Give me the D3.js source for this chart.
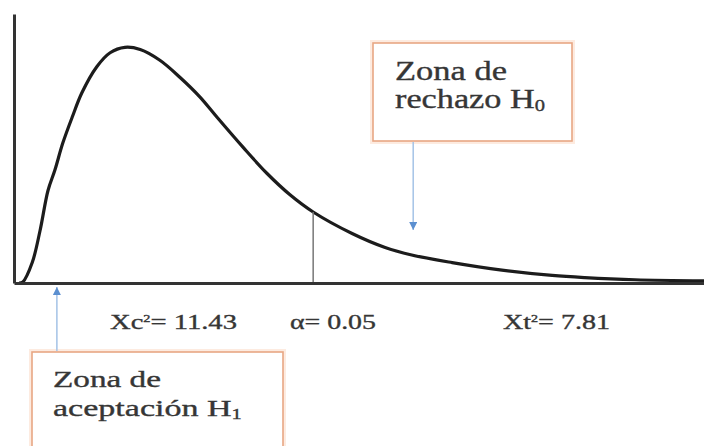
<!DOCTYPE html>
<meta charset="utf-8">
<script src="https://d3js.org/d3.v7.min.js"></script>
<style>
body { margin: 0; background: #fff; }
text { font-family: "Liberation Serif", "Times New Roman", serif; fill: #363636; stroke: #363636; stroke-width: 0.35; }
</style>
<div id="chart"></div>
<script>
// density curve (chi-square like shape)
var curveX = [0.10, 0.18, 0.37, 0.53, 0.69, 0.83, 0.99, 1.18, 1.38, 1.68, 1.95, 2.25, 2.56, 2.96, 3.37,
              3.77, 4.12, 4.65, 5.13, 5.60, 6.07, 6.86, 7.53, 8.07, 8.89, 9.90, 10.92, 11.58, 12.60, 14.00];
var curveY = [0, 0.001, 0.019, 0.049, 0.086, 0.105, 0.130, 0.154, 0.177, 0.201, 0.214, 0.219, 0.217, 0.207, 0.191,
              0.173, 0.154, 0.126, 0.102, 0.082, 0.066, 0.046, 0.033, 0.026, 0.019, 0.012, 0.007, 0.005, 0.003, 0.002];

// critical value line (alpha = 0.05) and arrow targets
var critX = 6.07, critY = 0.066;
var rejectX = 8.1, acceptX = 0.87;

// texts
var rejectText = ["Zona de", "rechazo H", "0"];
var acceptText = ["Zona de", "aceptación H", "1"];
var statLabels = [["Xc", "2", "= 11.43"], ["α= 0.05", "", ""], ["Xt", "2", "= 7.81"]];

var width = 704, height = 446;

var svg = d3.select("#chart")
  .append("svg")
    .attr("width", width)
    .attr("height", height);

var x = d3.scaleLinear().domain([0, 14]).range([14, 704]);
var y = d3.scaleLinear().domain([0, 0.25]).range([283, 14]);

// arrowhead
svg.append("defs").append("marker")
    .attr("id", "head")
    .attr("viewBox", "0 0 10 10")
    .attr("refX", 10).attr("refY", 5)
    .attr("markerWidth", 8).attr("markerHeight", 8)
    .attr("markerUnits", "userSpaceOnUse")
    .attr("orient", "auto")
  .append("path")
    .attr("d", "M0,0L10,5L0,10Z")
    .attr("fill", "#5b8fd0");

// curve
var pts = curveX.map(function(d, i) { return [d, curveY[i]]; });
svg.append("path")
  .datum(pts)
  .attr("fill", "none")
  .attr("stroke", "#1c1c1c")
  .attr("stroke-width", 3.2)
  .attr("stroke-linejoin", "round")
  .attr("d", d3.line()
    .x(function(d) { return x(d[0]); })
    .y(function(d) { return y(d[1]); })
    .curve(d3.curveCatmullRom.alpha(0.5)));

// alpha line
svg.append("line")
  .attr("x1", x(critX)).attr("x2", x(critX))
  .attr("y1", y(0)).attr("y2", y(critY))
  .attr("stroke", "#777")
  .attr("stroke-width", 1.5);

// axes without ticks
svg.append("g")
  .attr("transform", "translate(0," + y(0) + ")")
  .call(d3.axisBottom(x).ticks(0).tickSizeOuter(0));
svg.append("g")
  .attr("transform", "translate(" + x(0) + ",0)")
  .call(d3.axisLeft(y).ticks(0).tickSizeOuter(0));
svg.selectAll(".domain").attr("stroke", "#333").attr("stroke-width", 3);

// stretch a text element so it fills a given width
function fitText(t, left, base, w) {
  var n = t.node().getBBox().width;
  t.attr("transform", "translate(" + left + "," + base + ") scale(" + (w / n) + ",1)");
}

function box(bx, by, bw, bh) {
  svg.append("rect")
    .attr("x", bx).attr("y", by).attr("width", bw).attr("height", bh)
    .attr("fill", "none").attr("stroke", "#fdebe0").attr("stroke-width", 6);
  svg.append("rect")
    .attr("x", bx).attr("y", by).attr("width", bw).attr("height", bh)
    .attr("fill", "#fff").attr("stroke", "#e8a784").attr("stroke-width", 1.6);
}

function twoLines(lines, left, base1, base2, w1, w2, size) {
  var t1 = svg.append("text").attr("font-size", size).text(lines[0]);
  fitText(t1, left, base1, w1);
  var t2 = svg.append("text").attr("font-size", size);
  t2.append("tspan").text(lines[1]);
  t2.append("tspan").attr("font-size", size * 0.6).attr("dy", 3).text(lines[2]);
  fitText(t2, left, base2, w2);
}

// rejection box + arrow
box(373, 43, 199, 98);
twoLines(rejectText, 395, 80, 108, 112, 150, 27);
svg.append("line")
  .attr("x1", x(rejectX)).attr("x2", x(rejectX))
  .attr("y1", 142).attr("y2", 230)
  .attr("stroke", "#a9c6e8").attr("stroke-width", 1.6)
  .attr("marker-end", "url(#head)");

// acceptance box + arrow
box(32, 352, 251, 120);
twoLines(acceptText, 53, 387, 416, 108, 189, 23);
svg.append("line")
  .attr("x1", x(acceptX)).attr("x2", x(acceptX))
  .attr("y1", 351).attr("y2", 287)
  .attr("stroke", "#a9c6e8").attr("stroke-width", 1.6)
  .attr("marker-end", "url(#head)");

// statistic labels under the axis
var labelLeft = [110, 290, 503], labelWidth = [127, 86, 107];
statLabels.forEach(function(l, i) {
  var t = svg.append("text").attr("font-size", 20);
  t.append("tspan").text(l[0]);
  if (l[1]) {
    t.append("tspan").attr("font-size", 10).attr("dy", -7).text(l[1]);
    t.append("tspan").attr("dy", 7).text(l[2]);
  }
  fitText(t, labelLeft[i], 329, labelWidth[i]);
});
</script>
